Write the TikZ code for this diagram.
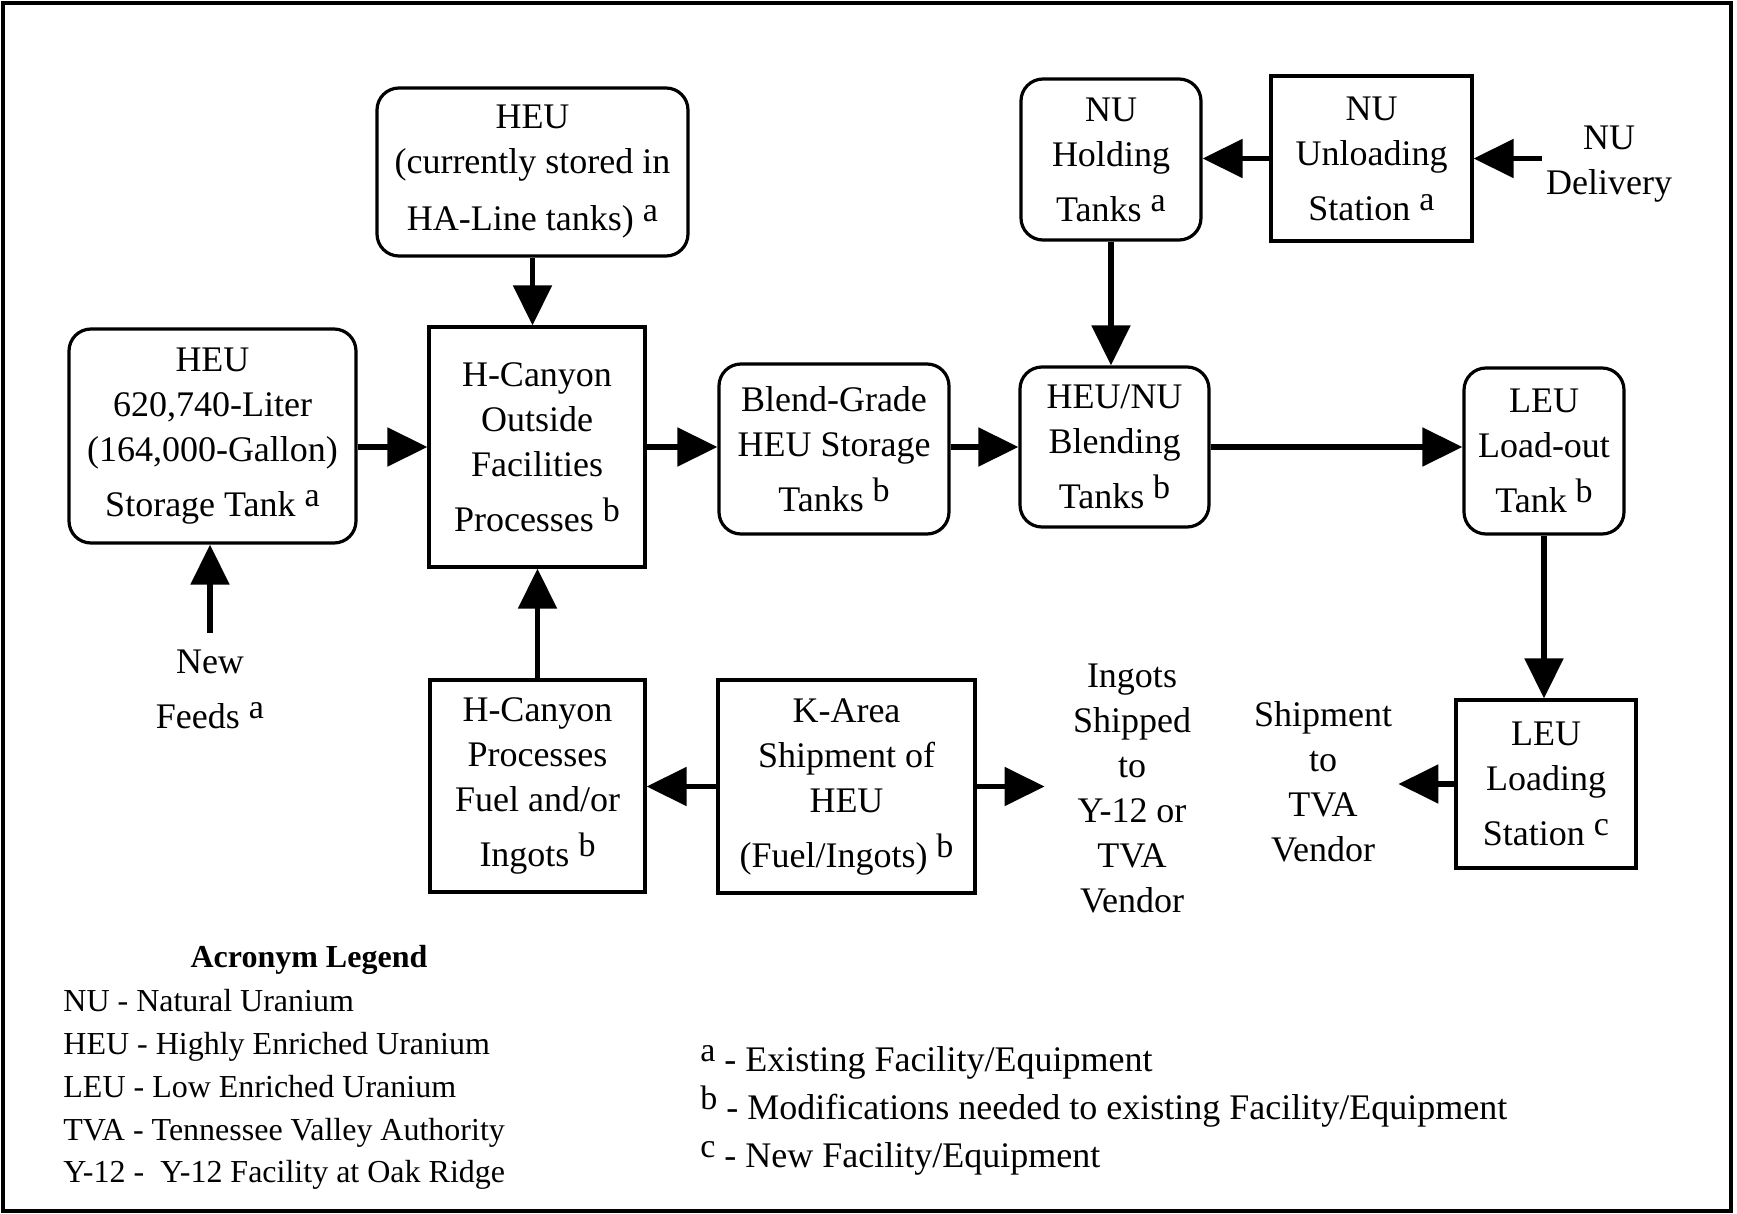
\documentclass[tikz,border=0pt]{standalone}
\usepackage{fontspec}
\setmainfont{Liberation Serif}
\usetikzlibrary{arrows.meta}
\newcommand\fnm[1]{\raisebox{0.6ex}{\fontsize{17}{17}\selectfont #1}}
\tikzset{
 box/.style={draw, line width=1.6pt, align=center, inner sep=0pt, font=\fontsize{18}{22.5}\selectfont},
 rbox/.style={box, rounded corners=11pt},
 lbl/.style={align=center, inner sep=2pt, font=\fontsize{18}{22.5}\selectfont},
 arr/.style={line width=2.6pt, -{Triangle[length=20pt,width=19pt]}},
 leg/.style={anchor=mid west, inner sep=0pt, font=\fontsize{16}{20}\selectfont},
 foot/.style={anchor=mid west, inner sep=0pt, font=\fontsize{18}{22}\selectfont},
}
\begin{document}
\begin{tikzpicture}[x=0.5pt,y=-0.5pt]
\useasboundingbox (0,0) rectangle (1737,1214);
\draw[line width=1.6pt] (3,3) rectangle (1731,1211);

\node[rbox, minimum width=155.5pt, minimum height=84pt] (top) at (532.5,172) {HEU\\(currently stored in\\[6pt]HA-Line tanks) \fnm{a}};
\node[rbox, minimum width=143.5pt, minimum height=107pt] (hs) at (212.5,436) {HEU\\620,740-Liter\\(164,000-Gallon)\\[5pt]Storage Tank \fnm{a}};
\node[box, minimum width=108pt, minimum height=120pt] (hco) at (537,447) {H-Canyon\\Outside\\Facilities\\[5pt]Processes \fnm{b}};
\node[rbox, minimum width=115pt, minimum height=85pt] (blend) at (834,449) {Blend-Grade\\HEU Storage\\[5pt]Tanks \fnm{b}};
\node[rbox, minimum width=94.5pt, minimum height=80pt] (bl) at (1114.5,447) {HEU/NU\\Blending\\[5pt]Tanks \fnm{b}};
\node[rbox, minimum width=90pt, minimum height=80.5pt] (nuh) at (1111,159.5) {NU\\Holding\\[5pt]Tanks \fnm{a}};
\node[box, minimum width=100.5pt, minimum height=82.5pt] (nuu) at (1371.5,158.5) {NU\\Unloading\\[5pt]Station \fnm{a}};
\node[lbl] (nud) at (1609,164) {NU\\Delivery};
\node[rbox, minimum width=80pt, minimum height=83pt] (leu1) at (1544,451) {LEU\\Load-out\\[5pt]Tank \fnm{b}};
\node[box, minimum width=90pt, minimum height=84pt] (leu2) at (1546,784) {LEU\\Loading\\[5pt]Station \fnm{c}};
\node[lbl, inner xsep=3pt] (ship) at (1323,782) {Shipment\\to\\TVA\\Vendor};
\node[lbl, inner xsep=14pt] (ing) at (1132,788) {Ingots\\Shipped\\to\\Y-12 or\\TVA\\Vendor};
\node[box, minimum width=128.5pt, minimum height=106.5pt] (ka) at (846.5,786.5) {K-Area\\Shipment of\\HEU\\[5pt](Fuel/Ingots) \fnm{b}};
\node[box, minimum width=107.5pt, minimum height=106pt] (hcp) at (537.5,786) {H-Canyon\\Processes\\Fuel and/or\\[5pt]Ingots \fnm{b}};
\node[lbl, inner ysep=8pt] (nf) at (210,689) {New\\[5pt]Feeds \fnm{a}};

\draw[arr] (top) -- (top |- hco.north);
\draw[arr] (hco.west -| hs.east) -- (hco.west);
\draw[arr] (nf.north) -- (nf.north |- hs.south);
\draw[arr] (hco.east) -- (hco.east -| blend.west);
\draw[arr] (bl.west -| blend.east) -- (bl.west);
\draw[arr] (bl.east) -- (bl.east -| leu1.west);
\draw[arr] (nuh.south) -- (nuh.south |- bl.north);
\draw[arr] (nuu.west) -- (nuu.west -| nuh.east);
\draw[arr] (nud.west |- nuu.west) -- (nuu.east);
\draw[arr] (leu1.south) -- (leu1.south |- leu2.north);
\draw[arr] (leu2.west) -- (leu2.west -| ship.east);
\draw[arr] (ka.west) -- (ka.west -| hcp.east);
\draw[arr] (ka.east) -- (ka.east -| ing.west);
\draw[arr] (hcp.north) -- (hcp.north |- hco.south);

\node[inner sep=0pt, font=\bfseries\fontsize{16}{20}\selectfont] (lt) at (309,960) {Acronym Legend};
\node[leg] (l1) at (63,1007) {NU - Natural Uranium};
\node[leg] (l2) at (63,1050) {HEU - Highly Enriched Uranium};
\node[leg] (l3) at (63,1093) {LEU - Low Enriched Uranium};
\node[leg] (l4) at (63,1136) {TVA - Tennessee Valley Authority};
\node[leg] (l5) at (63,1178) {Y-12 -\ \ Y-12 Facility at Oak Ridge};

\node[foot] (fa) at (700,1067) {\fnm{a} - Existing Facility/Equipment};
\node[foot] (fb) at (700,1115) {\fnm{b} - Modifications needed to existing Facility/Equipment};
\node[foot] (fc) at (700,1163) {\fnm{c} - New Facility/Equipment};
\end{tikzpicture}
\end{document}
